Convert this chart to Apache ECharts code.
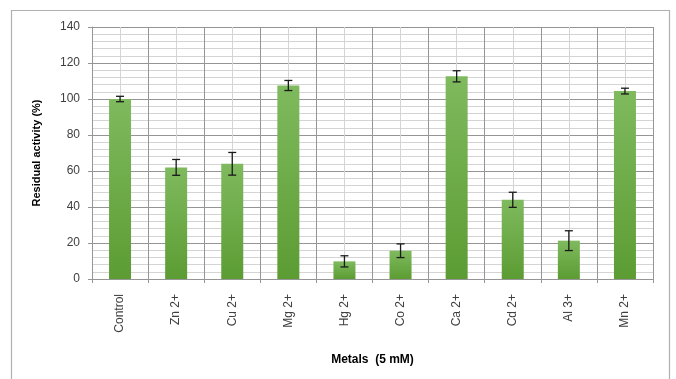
<!DOCTYPE html>
<html>
<head>
<meta charset="utf-8">
<script src="https://cdn.jsdelivr.net/npm/echarts@6/dist/echarts.min.js"></script>
<style>
  html, body { margin: 0; padding: 0; background: #fff; }
  #chart { width: 676px; height: 379px; }
</style>
</head>
<body>
<div id="chart"></div>
<script>
// Residual enzyme activity after incubation with metal ions (5 mM)
const categories = ['Control', 'Zn 2+', 'Cu 2+', 'Mg 2+', 'Hg 2+', 'Co 2+', 'Ca 2+', 'Cd 2+', 'Al 3+', 'Mn 2+'];
const activity   = [100, 62, 64, 107.5, 9.8, 15.7, 112.6, 44, 21.3, 104.4];
const errors     = [1.5, 4.4, 6.3, 2.8, 3.1, 3.8, 3.1, 4.2, 5.5, 1.6];
const yTicks     = [0, 20, 40, 60, 80, 100, 120, 140];

const chart = echarts.init(document.getElementById('chart'));

const majorGrid = '#959595';
const minorGrid = '#d4d4d4';
const labelFont = 'Liberation Sans, Arial, sans-serif';

const errorData = activity.map((v, i) => [i, v - errors[i], v + errors[i]]);

chart.setOption({
  animation: false,
  graphic: [{
    type: 'rect',
    shape: { x: 11.5, y: 10.5, width: 658, height: 380 },
    style: { fill: 'none', stroke: '#b0b0b0', lineWidth: 1.2 },
    silent: true
  }],
  grid: { left: 92, right: 23, top: 27, bottom: 100 },
  xAxis: [{
    type: 'category',
    data: categories,
    boundaryGap: true,
    axisLine: { show: true, lineStyle: { color: majorGrid } },
    axisTick: { show: false },
    splitLine: { show: false },
    axisLabel: {
      rotate: 90,
      margin: 15,
      color: '#404040',
      fontSize: 12,
      fontFamily: labelFont,
      interval: 0
    },
    name: 'Metals  (5 mM)',
    nameLocation: 'middle',
    nameGap: 75,
    nameTextStyle: { color: '#000', fontWeight: 'bold', fontSize: 12, fontFamily: labelFont }
  }, {
    // Gridline carrier: boundaries between categories and light lines at centres
    type: 'value',
    position: 'bottom',
    min: 0,
    max: categories.length,
    interval: 1,
    axisLine: { show: false },
    axisLabel: { show: false },
    axisTick: { show: true, length: 4, inside: false, lineStyle: { color: majorGrid } },
    splitLine: { show: true, lineStyle: { color: majorGrid, width: 1 } },
    minorTick: { show: false, splitNumber: 2 },
    minorSplitLine: { show: true, lineStyle: { color: minorGrid, width: 1 } }
  }],
  yAxis: {
    type: 'value',
    min: yTicks[0],
    max: yTicks[yTicks.length - 1],
    interval: 20,
    axisLine: { show: true, lineStyle: { color: majorGrid } },
    axisTick: { show: true, length: 4, lineStyle: { color: majorGrid } },
    axisLabel: { color: '#404040', fontSize: 12, fontFamily: labelFont, margin: 12 },
    splitLine: { show: true, lineStyle: { color: majorGrid, width: 1 } },
    minorTick: { show: false, splitNumber: 5 },
    minorSplitLine: { show: true, lineStyle: { color: minorGrid, width: 1 } },
    name: 'Residual activity (%)',
    nameLocation: 'middle',
    nameGap: 50,
    nameTextStyle: { color: '#000', fontWeight: 'bold', fontSize: 11, fontFamily: labelFont }
  },
  series: [{
    type: 'bar',
    xAxisIndex: 0,
    data: activity,
    barWidth: 22,
    itemStyle: {
      color: new echarts.graphic.LinearGradient(0, 0, 0, 1, [
        { offset: 0, color: '#7fba5e' },
        { offset: 1, color: '#5c9c33' }
      ])
    },
    z: 3
  }, {
    type: 'custom',
    xAxisIndex: 0,
    data: errorData,
    z: 5,
    renderItem: function (params, api) {
      const x = api.value(0);
      const lo = api.coord([x, api.value(1)]);
      const hi = api.coord([x, api.value(2)]);
      const half = 4;
      const style = { stroke: '#1a1a1a', lineWidth: 1.3 };
      return {
        type: 'group',
        children: [
          { type: 'line', shape: { x1: hi[0], y1: hi[1], x2: lo[0], y2: lo[1] }, style: style },
          { type: 'line', shape: { x1: hi[0] - half, y1: hi[1], x2: hi[0] + half, y2: hi[1] }, style: style },
          { type: 'line', shape: { x1: lo[0] - half, y1: lo[1], x2: lo[0] + half, y2: lo[1] }, style: style }
        ]
      };
    }
  }]
});
</script>
</body>
</html>
